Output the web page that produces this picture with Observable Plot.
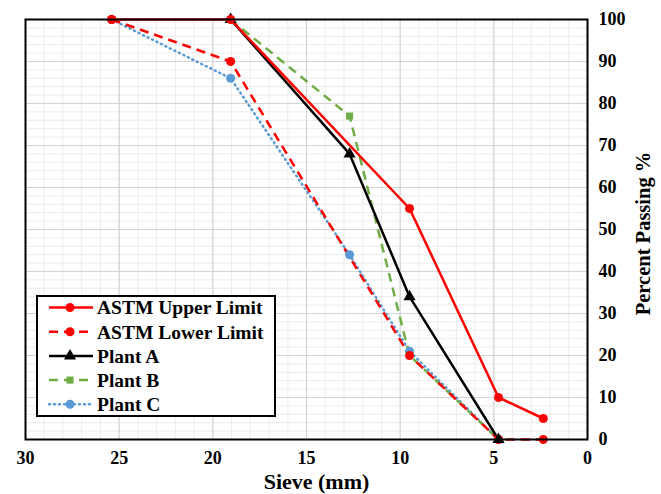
<!DOCTYPE html>
<html><head><meta charset="utf-8">
<script src="https://cdn.jsdelivr.net/npm/d3@7"></script>
<script src="https://cdn.jsdelivr.net/npm/@observablehq/plot@0.6"></script>
<style>
body{margin:0;background:#fff;font-family:"Liberation Serif",serif;}
#chart{position:relative;width:661px;height:494px;}
#chart svg, #chart svg text{font-family:"Liberation Serif","Times New Roman",serif !important;font-weight:bold;}
</style>
</head><body><div id="chart"></div>
<script>
const seriesNames = ["ASTM Upper Limit","ASTM Lower Limit","Plant A","Plant B","Plant C"];
const upperSieve = [25.4, 19.05, 9.5, 4.75, 2.36];
const upperPass  = [100, 100, 55, 10, 5];
const lowerSieve = [25.4, 19.05, 9.5, 4.75, 2.36];
const lowerPass  = [100, 90, 20, 0, 0];
const plantASieve = [19.05, 12.7, 9.5, 4.75];
const plantAPass  = [100, 68, 34, 0];
const plantBSieve = [19.05, 12.7, 9.5, 4.75];
const plantBPass  = [100, 77, 20, 0];
const plantCSieve = [25.4, 19.05, 12.7, 9.5, 4.75];
const plantCPass  = [100, 86, 44, 21, 0];
const xTicks = [30,25,20,15,10,5,0];
const yTicks = [0,10,20,30,40,50,60,70,80,90,100];
const xTitle = "Sieve (mm)";
const yTitle = "Percent Passing %";

const styles = {
  "ASTM Upper Limit": {stroke:"#ff0000", dash:null, symbol:"circle", r:4.5, cap:"butt"},
  "ASTM Lower Limit": {stroke:"#ff0000", dash:"9,6", symbol:"circle", r:4.5, cap:"butt"},
  "Plant A": {stroke:"#000000", dash:null, symbol:"triangle", r:4.5, cap:"butt"},
  "Plant B": {stroke:"#70ad47", dash:"9,6", symbol:"square", r:4, cap:"butt"},
  "Plant C": {stroke:"#5b9bd5", dash:"1,4", symbol:"circle", r:4.5, cap:"round"}
};

const toRows = (name, xs, ys) => xs.map((x,i)=>({series:name, sieve:x, pass:ys[i]}));
const data = [
  toRows(seriesNames[0], upperSieve, upperPass),
  toRows(seriesNames[1], lowerSieve, lowerPass),
  toRows(seriesNames[2], plantASieve, plantAPass),
  toRows(seriesNames[3], plantBSieve, plantBPass),
  toRows(seriesNames[4], plantCSieve, plantCPass)
];

const font = "Liberation Serif, Times New Roman, serif";
const marks = [
  Plot.gridX(d3.range(0,31,1), {stroke:"#ececec", strokeOpacity:1, strokeWidth:1}),
  Plot.gridY(d3.range(0,101,2), {stroke:"#ececec", strokeOpacity:1, strokeWidth:1}),
  Plot.gridX(xTicks, {stroke:"#d4d4d4", strokeOpacity:1, strokeWidth:1.2}),
  Plot.gridY(yTicks, {stroke:"#d4d4d4", strokeOpacity:1, strokeWidth:1.2}),
];
const order = [4,3,1,2,0];
for (const i of order) {
  const s = styles[seriesNames[i]];
  marks.push(Plot.line(data[i], {x:"sieve", y:"pass", stroke:s.stroke, strokeWidth:2.5,
    strokeDasharray:s.dash, strokeLinecap:s.cap}));
}
for (const i of order) {
  const s = styles[seriesNames[i]];
  marks.push(Plot.dot(data[i], {x:"sieve", y:"pass", fill:s.stroke, stroke:null, symbol:s.symbol, r:s.r}));
}
marks.push(Plot.frame({stroke:"#000", strokeWidth:2}));
marks.push(Plot.axisX({ticks:xTicks, tickSize:0, tickPadding:12, label:null, fontSize:18, fontWeight:"bold"}));
marks.push(Plot.axisY({anchor:"right", ticks:yTicks, tickSize:0, tickPadding:11, label:null, fontSize:18, fontWeight:"bold"}));
marks.push(Plot.text([xTitle], {text:d=>d, frameAnchor:"bottom", lineAnchor:"bottom", dx:10, dy:49, fontSize:22, fontWeight:"bold", fill:"#000"}));
marks.push(Plot.text([yTitle], {text:d=>d, frameAnchor:"right", textAnchor:"middle", dx:56, dy:4, rotate:-90, fontSize:20.5, fontWeight:"bold", fill:"#000"}));

const plot = Plot.plot({
  width:661, height:494,
  marginLeft:25, marginRight:74, marginTop:19, marginBottom:55,
  style:{fontFamily:font, fontSize:"18px", fontWeight:"bold", color:"#000", background:"#fff"},
  x:{domain:[30,0]},
  y:{domain:[0,100]},
  marks
});
document.getElementById("chart").appendChild(plot);

// legend
const svg = d3.select(plot);
const lg = svg.append("g").attr("font-family", font).attr("font-weight","bold").attr("font-size", 19.5).attr("text-anchor","start");
lg.append("rect").attr("x",37).attr("y",296).attr("width",238).attr("height",120)
  .attr("fill","#fff").attr("stroke","#000").attr("stroke-width",2);
const sym = {circle:d3.symbolCircle, triangle:d3.symbolTriangle, square:d3.symbolSquare};
seriesNames.forEach((name,i)=>{
  const s = styles[name];
  const cy = 307.5 + i*24.2;
  lg.append("line").attr("x1",49).attr("x2",93).attr("y1",cy).attr("y2",cy)
    .attr("stroke",s.stroke).attr("stroke-width",2.5)
    .attr("stroke-dasharray",s.dash).attr("stroke-linecap",s.cap);
  lg.append("path").attr("transform",`translate(70,${cy})`)
    .attr("d", d3.symbol(sym[s.symbol], Math.PI*s.r*s.r)()).attr("fill",s.stroke);
  lg.append("text").attr("x",97).attr("y",cy).attr("dy","0.35em").text(name);
});
</script></body></html>
